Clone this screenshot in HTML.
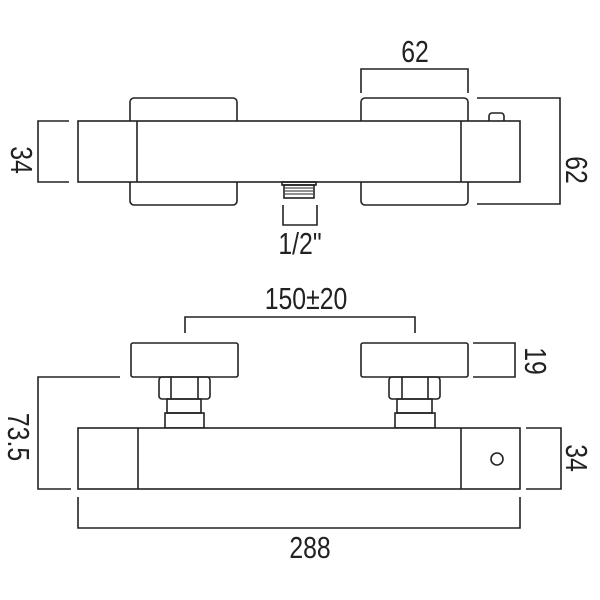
<!DOCTYPE html>
<html><head><style>
html,body{margin:0;padding:0;background:#fff;}
svg{display:block;}
text{font-family:"Liberation Sans",sans-serif;font-size:31px;fill:#222;}
</style></head><body>
<svg width="600" height="600" viewBox="0 0 600 600" xmlns="http://www.w3.org/2000/svg">
<g fill="none" stroke="#222" stroke-width="1.6">
<rect x="130" y="98" width="107" height="107" rx="4"/>
<rect x="361" y="98" width="107" height="107" rx="4"/>
<rect x="489" y="113" width="15" height="14" rx="3" fill="#fff"/>
<rect x="78" y="121" width="442" height="61" fill="#fff"/>
<line x1="137" y1="121" x2="137" y2="182"/>
<line x1="461" y1="121" x2="461" y2="182"/>
<rect x="282" y="182" width="34" height="3"/>
<rect x="284" y="185" width="30" height="13"/>
<g stroke-width="0.9"><line x1="285" y1="188" x2="313" y2="188"/><line x1="285" y1="191" x2="313" y2="191"/><line x1="285" y1="194" x2="313" y2="194"/></g>
<polyline points="283,205 283,225 317,225 317,205"/>
<polyline points="361,93 361,69 468,69 468,93"/>
<polyline points="69,121 38,121 38,182 69,182"/>
<polyline points="477,98 560,98 560,204 477,204"/>

<polyline points="185,333 185,317 415,317 415,333"/>
<rect x="131" y="343" width="107" height="34" rx="2"/>
<rect x="361" y="343" width="107" height="34" rx="2"/>
<rect x="159" y="377" width="51" height="22" rx="3"/>
<line x1="171" y1="377" x2="171" y2="399"/><line x1="198" y1="377" x2="198" y2="399"/>
<rect x="389" y="377" width="51" height="22" rx="3"/>
<line x1="402" y1="377" x2="402" y2="399"/><line x1="428" y1="377" x2="428" y2="399"/>
<rect x="167" y="399" width="34" height="14"/>
<rect x="165" y="413" width="39" height="15"/>
<rect x="397" y="399" width="35" height="14"/>
<rect x="395" y="413" width="40" height="15"/>
<rect x="78" y="428" width="442" height="61" fill="#fff"/>
<line x1="138" y1="428" x2="138" y2="489"/>
<line x1="461" y1="428" x2="461" y2="489"/>
<circle cx="497" cy="459" r="6"/>
<polyline points="473,343 515,343 515,377 473,377"/>
<polyline points="120,377 38,377 38,489 71,489"/>
<polyline points="526,428 561,428 561,489 526,489"/>
<polyline points="78,497 78,528 520,528 520,497"/>
</g>
<g text-anchor="middle">
<text transform="translate(415,62) scale(0.8,1)">62</text>
<text transform="translate(11,160) rotate(90) scale(0.8,1)">34</text>
<text transform="translate(566,170) rotate(90) scale(0.8,1)">62</text>
<text transform="translate(300,254) scale(0.8,1)">1/2"</text>
<text transform="translate(306,309) scale(0.8,1)">150±20</text>
<text transform="translate(525,361) rotate(90) scale(0.8,1)">19</text>
<text transform="translate(8,437) rotate(90) scale(0.8,1)">73.5</text>
<text transform="translate(566,458) rotate(90) scale(0.8,1)">34</text>
<text transform="translate(310,558) scale(0.8,1)">288</text>
</g>
</svg>
</body></html>
